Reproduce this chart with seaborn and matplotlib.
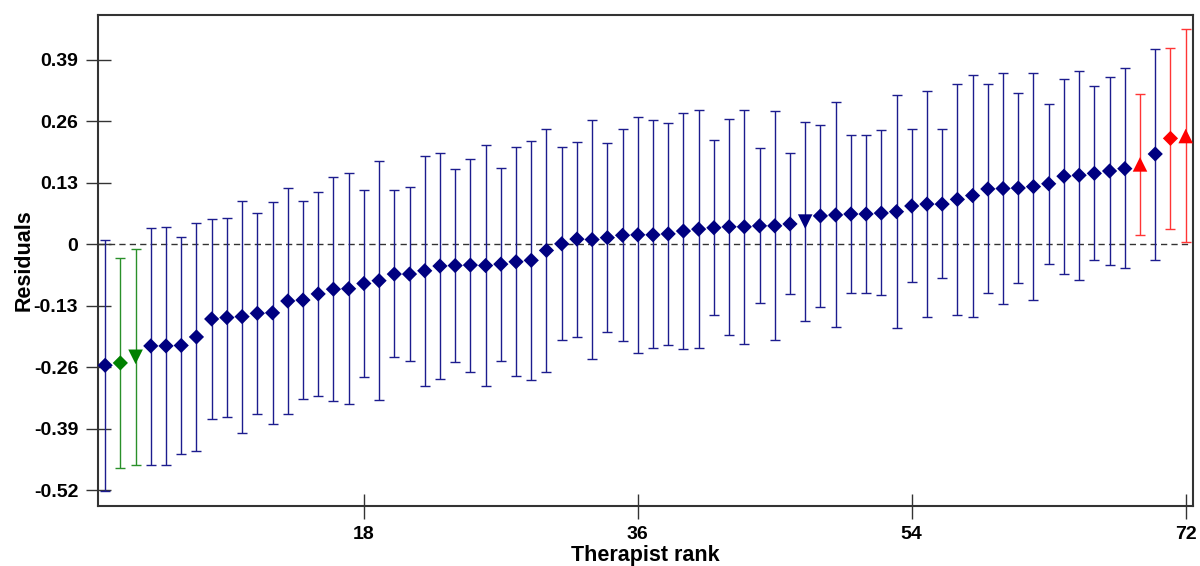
import numpy as np
import pandas as pd
import matplotlib
matplotlib.use("Agg")
import matplotlib.pyplot as plt
import seaborn as sns

# Therapist residual estimates with 95% intervals, ordered by rank
rank = list(range(1, 73))
estimate = [
    -0.256, -0.251, -0.238, -0.215, -0.215, -0.214, -0.196, -0.158, -0.155, -0.153,
    -0.146, -0.145, -0.120, -0.118, -0.105, -0.095, -0.094, -0.083, -0.077, -0.063,
    -0.063, -0.056, -0.046, -0.045, -0.044, -0.045, -0.042, -0.037, -0.034, -0.013,
    0.001, 0.011, 0.010, 0.014, 0.019, 0.020, 0.020, 0.022, 0.028, 0.032,
    0.035, 0.037, 0.037, 0.039, 0.039, 0.043, 0.048, 0.060, 0.062, 0.064,
    0.064, 0.066, 0.069, 0.081, 0.085, 0.085, 0.095, 0.103, 0.117, 0.118,
    0.119, 0.122, 0.128, 0.144, 0.146, 0.150, 0.155, 0.160, 0.169, 0.191,
    0.224, 0.229,
]
lower = [
    -0.521, -0.473, -0.466, -0.466, -0.466, -0.444, -0.437, -0.370, -0.365, -0.399,
    -0.358, -0.380, -0.358, -0.327, -0.321, -0.332, -0.337, -0.280, -0.330, -0.239,
    -0.246, -0.299, -0.284, -0.249, -0.270, -0.299, -0.246, -0.278, -0.287, -0.270,
    -0.203, -0.196, -0.242, -0.186, -0.205, -0.229, -0.220, -0.213, -0.222, -0.220,
    -0.150, -0.191, -0.210, -0.125, -0.203, -0.106, -0.163, -0.132, -0.175, -0.104,
    -0.102, -0.108, -0.178, -0.080, -0.153, -0.072, -0.149, -0.153, -0.104, -0.127,
    -0.082, -0.118, -0.041, -0.062, -0.075, -0.034, -0.044, -0.051, 0.020, -0.034,
    0.032, 0.004,
]
upper = [
    0.009, -0.029, -0.010, 0.035, 0.037, 0.016, 0.045, 0.054, 0.056, 0.092,
    0.067, 0.090, 0.119, 0.092, 0.111, 0.143, 0.150, 0.114, 0.176, 0.114,
    0.121, 0.186, 0.193, 0.159, 0.181, 0.209, 0.162, 0.205, 0.219, 0.243,
    0.205, 0.217, 0.262, 0.214, 0.243, 0.269, 0.262, 0.257, 0.278, 0.284,
    0.221, 0.265, 0.284, 0.203, 0.281, 0.193, 0.259, 0.252, 0.300, 0.231,
    0.231, 0.241, 0.316, 0.243, 0.325, 0.243, 0.340, 0.359, 0.338, 0.363,
    0.319, 0.363, 0.297, 0.350, 0.367, 0.334, 0.353, 0.372, 0.318, 0.414,
    0.416, 0.455,
]

# Flag groups: "low" / "high" performers and the remaining therapists
group = ["mid"] * 72
group[1] = "low"
group[2] = "low"
group[68] = "high"
group[70] = "high"
group[71] = "high"

# Marker shape per therapist
shape = ["D"] * 72
shape[2] = "v"
shape[46] = "v"
shape[68] = "^"
shape[71] = "^"

ytick_values = [-0.52, -0.39, -0.26, -0.13, 0, 0.13, 0.26, 0.39]
ytick_labels = ["-0.52", "-0.39", "-0.26", "-0.13", "0", "0.13", "0.26", "0.39"]
xtick_values = [18, 36, 54, 72]

df = pd.DataFrame({
    "rank": rank, "estimate": estimate, "lower": lower, "upper": upper,
    "group": group, "shape": shape,
})

marker_colors = {"mid": "#000080", "low": "#008000", "high": "#ff0000"}
bar_colors = {"mid": "#1c1c8e", "low": "#2a902a", "high": "#ff3535"}

sns.set_theme(style="white")
plt.rcParams["font.family"] = ["Liberation Sans", "DejaVu Sans"]
plt.rcParams["font.weight"] = "bold"

fig = plt.figure(figsize=(12, 5.66), dpi=100)
ax = fig.add_axes([0.0819, 0.1065, 0.9125, 0.867])

# Interval bars, one call per colour group
for g, sub in df.groupby("group"):
    ax.errorbar(
        sub["rank"], sub["estimate"],
        yerr=[sub["estimate"] - sub["lower"], sub["upper"] - sub["estimate"]],
        fmt="none", ecolor=bar_colors[g], elinewidth=1.0, capsize=3.4,
        capthick=1.0, zorder=2,
    )

ax.axhline(0, color="#333333", lw=1.0, ls=(0, (4.5, 3)), zorder=1)

sns.scatterplot(
    data=df, x="rank", y="estimate", hue="group", style="shape", size="shape",
    palette=marker_colors, markers={"D": "D", "v": "v", "^": "^"},
    sizes={"D": 60, "v": 110, "^": 110}, linewidth=0, legend=False, ax=ax,
    zorder=3,
)

ax.set_xlim(0.55, 72.5)
ax.set_ylim(-0.553, 0.485)
ax.set_xticks(xtick_values)
ax.set_xticklabels([str(v) for v in xtick_values])
ax.set_yticks(ytick_values)
ax.set_yticklabels(ytick_labels)

ax.tick_params(axis="both", direction="inout", length=18, width=1.0,
               color="#333333", labelsize=14, labelcolor="black")
ax.tick_params(axis="y", pad=5.5)
ax.tick_params(axis="x", pad=5.5)
ax.tick_params(axis="both", left=True, bottom=True)
for lab in ax.get_xticklabels() + ax.get_yticklabels():
    lab.set_fontweight("bold")

for side in ["left", "right", "top", "bottom"]:
    ax.spines[side].set_visible(True)
    ax.spines[side].set_color("#333333")
    ax.spines[side].set_linewidth(1.5)

ax.set_xlabel("Therapist rank", fontsize=15.5, fontweight="bold", color="black")
ax.set_ylabel("Residuals", fontsize=15.5, fontweight="bold", color="black")
ax.xaxis.set_label_coords(0.5, -0.080)
ax.yaxis.set_label_coords(-0.058, 0.5)

fig.savefig("out.png", dpi=100, facecolor="white")
